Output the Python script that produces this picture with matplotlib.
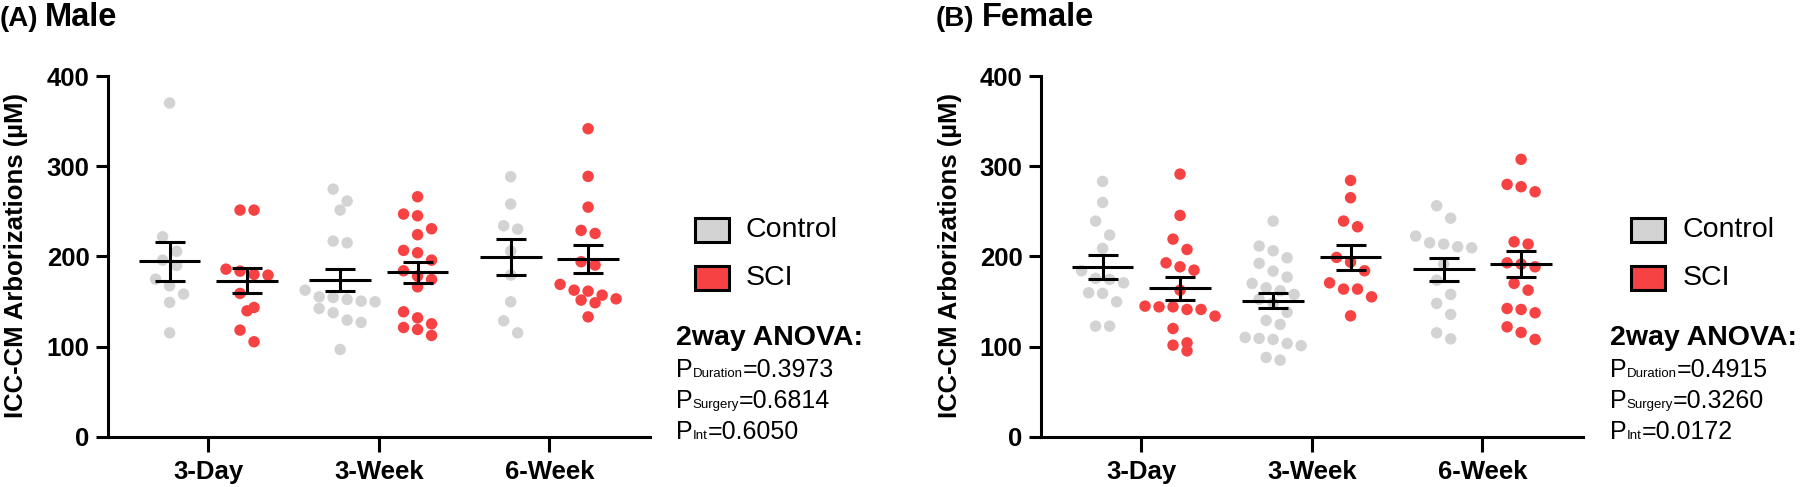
import numpy as np
import matplotlib
matplotlib.use("Agg")
import matplotlib.pyplot as plt

plt.rcParams['font.family'] = ['Liberation Sans', 'DejaVu Sans']

# ---------------- data ----------------
groups = ["3-Day", "3-Week", "6-Week"]
series_names = ["Control", "SCI"]
yticks = [0, 100, 200, 300, 400]

male_ctrl = [
    [370, 221.7, 205.5, 195.8, 189.9, 174.7, 167.3, 158.1, 148.9, 115.2],
    [274.6, 261.3, 251.3, 216.9, 215.0, 162.5, 155.1, 154.4, 152.2, 150.3, 149.6,
     142.2, 137.4, 129.3, 126.7, 96.7],
    [288.3, 258.0, 233.9, 230.2, 205.8, 179.2, 149.6, 128.5, 115.2],
]
male_sci = [
    [251.3, 251.3, 185.8, 183.6, 180.0, 179.2, 158.9, 143.3, 139.6, 118.2, 105.3],
    [266.1, 246.9, 245.0, 230.6, 224.0, 206.6, 204.0, 195.8, 184.0, 178.1, 174.4,
     166.2, 138.5, 131.8, 125.2, 121.1, 118.9, 112.3],
    [341.5, 288.7, 254.6, 228.8, 225.4, 194.0, 190.3, 168.9, 162.5, 161.4, 157.0,
     152.9, 151.5, 148.5, 132.9],
]
fem_ctrl = [
    [283.1, 259.8, 239.1, 223.6, 208.8, 184.0, 175.5, 174.4, 170.6, 159.6, 158.9,
     149.6, 122.6, 122.6],
    [239.1, 211.4, 206.2, 198.4, 192.2, 183.6, 177.0, 170.0, 165.1, 161.8, 157.8,
     152.5, 148.0, 138.0, 128.9, 124.5, 110.1, 109.0, 107.9, 103.4, 101.0, 87.9, 84.9],
    [256.1, 242.3, 222.5, 215.0, 213.6, 210.6, 209.5, 191.4, 173.6, 157.8, 147.8,
     135.6, 115.2, 108.5],
]
fem_sci = [
    [291.2, 245.4, 219.1, 207.6, 192.8, 188.4, 184.7, 162.5, 144.8, 144.0, 144.0,
     141.1, 141.1, 133.7, 120.0, 104.1, 101.5, 95.2],
    [284.2, 265.0, 239.1, 232.8, 198.8, 193.6, 184.0, 170.6, 163.7, 163.7, 155.1, 134.0],
    [307.6, 279.8, 277.2, 271.6, 216.1, 213.6, 192.8, 191.4, 188.4, 170.0, 162.5,
     142.2, 141.1, 137.4, 121.8, 115.6, 107.9],
]

# mean and SEM as shown in the chart
male_mean_ctrl = [194.7, 173.6, 198.8]
male_sem_ctrl = [21.6, 12.2, 20.0]
male_mean_sci = [172.9, 182.2, 197.3]
male_sem_sci = [13.9, 11.6, 15.7]
fem_mean_ctrl = [188.1, 150.7, 185.8]
fem_sem_ctrl = [13.3, 8.3, 12.8]
fem_mean_sci = [164.8, 198.8, 191.4]
fem_sem_sci = [12.8, 13.9, 14.5]

male_p = [("Duration", "0.3973"), ("Surgery", "0.6814"), ("Int", "0.6050")]
fem_p = [("Duration", "0.4915"), ("Surgery", "0.3260"), ("Int", "0.0172")]

# ---------------- style ----------------
W, H = 1800, 487
C_CTRL = "#D3D3D3"
C_SCI = "#F64242"
LW = 2.2
DODGE = 0.227

fig = plt.figure(figsize=(W / 100, H / 100), dpi=100)


def px_axes(x0, x1, ytop, ybot):
    return fig.add_axes([x0 / W, 1 - ybot / H, (x1 - x0) / W, (ybot - ytop) / H])


def swarm_x(ax, center, values, row_px=15.0, step_px=14.0):
    vals = np.asarray(values, float)
    pts = ax.transData.transform(np.column_stack([np.full(vals.size, center), vals]))
    ypx = pts[:, 1]
    cx = pts[0, 0]
    order = np.argsort(-vals, kind="stable")
    rows, cur = [], [order[0]]
    for i in order[1:]:
        if ypx[cur[0]] - ypx[i] < row_px:
            cur.append(i)
        else:
            rows.append(cur)
            cur = [i]
    rows.append(cur)
    xpx = np.empty(vals.size)
    for r in rows:
        n = len(r)
        for k, i in enumerate(r):
            xpx[i] = cx + (k - (n - 1) / 2) * step_px
    return ax.transData.inverted().transform(np.column_stack([xpx, ypx]))[:, 0]


def draw_panel(ax, ctrl, sci, mc, sc, ms, ss):
    ax.set_xlim(0.41, 3.59)
    ax.set_ylim(0, 400)
    pos = np.arange(1, len(groups) + 1)
    for g in range(len(groups)):
        for vals, off, col, mean, sem in ((ctrl[g], -DODGE, C_CTRL, mc[g], sc[g]),
                                         (sci[g], DODGE, C_SCI, ms[g], ss[g])):
            c = pos[g] + off
            xs = swarm_x(ax, c, vals)
            ax.scatter(xs, vals, s=68, color=col, edgecolors="none", zorder=2,
                       clip_on=False)
            ax.hlines(mean, c - 0.181, c + 0.181, color="black", lw=LW, zorder=3)
            ax.errorbar(c, mean, yerr=sem, fmt="none", ecolor="black", elinewidth=LW,
                        capsize=10.8, capthick=LW, zorder=3)
    ax.set_xticks(pos)
    ax.set_xticklabels(groups, fontsize=18.5, fontweight="bold")
    ax.set_yticks(yticks)
    ax.set_yticklabels([str(t) for t in yticks], fontsize=18.5, fontweight="bold")
    for s in ("top", "right"):
        ax.spines[s].set_visible(False)
    for s in ("left", "bottom"):
        ax.spines[s].set_linewidth(LW)
    ax.tick_params(axis="x", length=10.8, width=LW, pad=6)
    ax.tick_params(axis="y", length=9, width=LW, pad=4)


def rich_line(x, y, parts):
    r = fig.canvas.get_renderer()
    for txt, size, weight in parts:
        t = fig.text(x / W, 1 - y / H, txt, fontsize=size, fontweight=weight,
                     ha="left", va="baseline")
        x += t.get_window_extent(r).width


def legend_and_stats(xbox, xtext, xstats, pvals):
    for (name, col, yc) in ((series_names[0], C_CTRL, 230.3), (series_names[1], C_SCI, 278.0)):
        fig.patches.append(plt.Rectangle((xbox / W, 1 - (yc + 12) / H), 34 / W, 24 / H,
                                         transform=fig.transFigure, facecolor=col,
                                         edgecolor="black", lw=2.2))
        fig.text(xtext / W, 1 - yc / H, name, fontsize=20.5, ha="left", va="center")
    rich_line(xstats, 345, [("2way ANOVA:", 20.5, "bold")])
    for k, (sub, val) in enumerate(pvals):
        rich_line(xstats, 377 + 30.8 * k,
                  [("P", 18, "normal"), (sub, 9.5, "normal"), ("=" + val, 18, "normal")])


# Panel A
axA = px_axes(107.7, 650, 76, 436.7)
draw_panel(axA, male_ctrl, male_sci, male_mean_ctrl, male_sem_ctrl,
           male_mean_sci, male_sem_sci)
# Panel B
axB = px_axes(1040.7, 1583, 76, 436.7)
draw_panel(axB, fem_ctrl, fem_sci, fem_mean_ctrl, fem_sem_ctrl,
           fem_mean_sci, fem_sem_sci)

ylabel = "ICC-CM Arborizations (µM)"
fig.text(15.7 / W, 1 - 255 / H, ylabel, rotation=90, fontsize=18.5, fontweight="bold",
         ha="center", va="center")
fig.text(950 / W, 1 - 255 / H, ylabel, rotation=90, fontsize=18.5, fontweight="bold",
         ha="center", va="center")

rich_line(0, 26, [("(A)", 20, "bold")])
rich_line(45, 26, [("Male", 23.5, "bold")])
rich_line(936, 26, [("(B)", 20, "bold")])
rich_line(981.7, 26, [("Female", 23.5, "bold")])

legend_and_stats(695, 745.7, 676, male_p)
legend_and_stats(1630.7, 1682.7, 1610, fem_p)

fig.savefig("out.png", dpi=100)
